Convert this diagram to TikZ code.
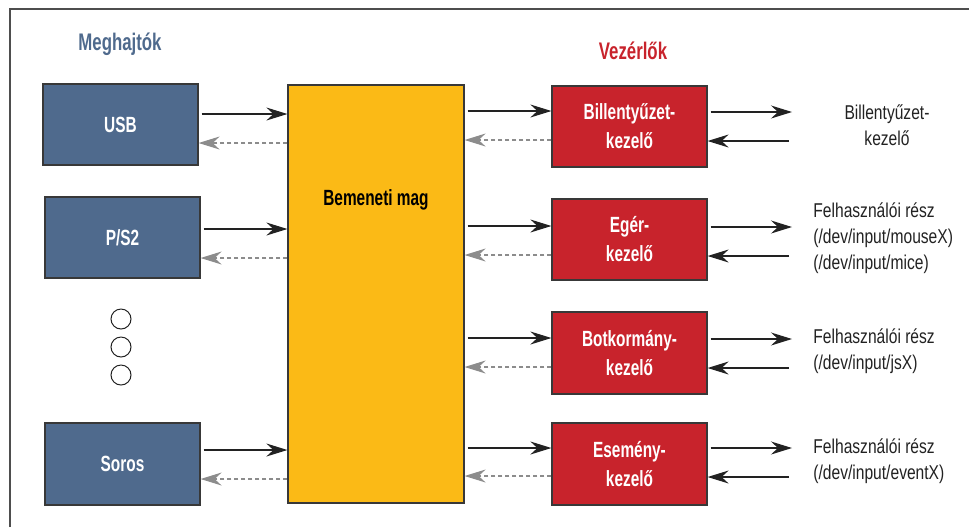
\documentclass[tikz,border=0pt]{standalone}
\usepackage{fontspec}
\setmainfont{Liberation Sans}[FakeStretch=0.78]
\newfontfamily\boxfont{Liberation Sans}[FakeStretch=0.7]
\usetikzlibrary{arrows.meta}

\definecolor{drvblue}{HTML}{4F6A8D}
\definecolor{coreyellow}{HTML}{FBBA16}
\definecolor{ctlred}{HTML}{C8232C}
\definecolor{retgray}{HTML}{8C8C8C}
\definecolor{ink}{HTML}{222222}

\tikzset{
  box/.style={draw=ink!90, line width=0.6pt, inner sep=0pt, align=center,
    minimum width=77.5pt, minimum height=40.5pt,
    font=\boxfont\fontsize{11}{14.5}\selectfont\bfseries},
  drvbox/.style={box, fill=drvblue, text=white},
  ctlbox/.style={box, fill=ctlred, text=white},
  corebox/.style={box, fill=coreyellow, minimum width=88pt, minimum height=209pt},
  fwd/.style={draw=ink, line width=0.6pt, shorten <=1.5pt,
    -{Stealth[length=10.5pt,width=6.5pt,inset=3.5pt]}},
  ret/.style={draw=retgray, line width=0.6pt, dash pattern=on 2pt off 1.5pt,
    -{Stealth[length=10.5pt,width=6.5pt,inset=3.5pt,fill=retgray]}},
  outlbl/.style={text=ink, inner sep=0pt, font=\fontsize{10}{13}\selectfont},
  heading/.style={font=\boxfont\fontsize{12}{14}\selectfont\bfseries},
  dot/.style={circle, draw=ink, line width=0.5pt, minimum size=10pt, inner sep=0pt}
}

\begin{document}
\begin{tikzpicture}[x=0.5pt, y=-0.5pt]
  \useasboundingbox (0,0) rectangle (969,527);
  % frame (cut at right and bottom)
  \draw[ink!80, line width=0.7pt] (10,527) -- (10,9) -- (969,9);

  % Drivers
  \node[heading, text=drvblue] (hdrv) at (120,44) {Meghajtók};
  \node[drvbox] (usb) at (120.5,124.5) {USB};
  \node[drvbox] (ps2) at (122.5,237.5) {P/S2};
  \node[drvbox, minimum height=41pt] (soros) at (122.5,464) {Soros};
  \foreach \i/\y in {1/319, 2/347, 3/375} {
    \node[dot] (dot\i) at (121,\y) {};
  }

  % Input core
  \node[corebox, label={[font=\boxfont\fontsize{11}{12}\selectfont\bfseries, yshift=47pt]center:Bemeneti mag}] (core) at (376,294) {};

  % Handlers
  \node[heading, text=ctlred] (hctl) at (633,51) {Vezérlők};
  \node[ctlbox] (kbd) at (629.5,126.5) {Billentyűzet-\\kezelő};
  \node[ctlbox] (mouse) at (629.5,239.5) {Egér-\\kezelő};
  \node[ctlbox, minimum height=41pt] (joy) at (629.5,353) {Botkormány-\\kezelő};
  \node[ctlbox, minimum height=41pt] (evt) at (629.5,464) {Esemény-\\kezelő};

  % User space
  \node[outlbl, align=center] (kbdu) at (887,125) {Billentyűzet-\\kezelő};
  \node[outlbl, align=left, anchor=west] (mouseu) at (813,238) {Felhasználói rész\\(/dev/input/mouseX)\\(/dev/input/mice)};
  \node[outlbl, align=left, anchor=west] (joyu) at (813,351) {Felhasználói rész\\(/dev/input/jsX)};
  \node[outlbl, align=left, anchor=west] (evtu) at (813,461) {Felhasználói rész\\(/dev/input/eventX)};
  \coordinate (usr) at (792,0);

  % drivers <-> core
  \foreach \n/\a/\b in {usb/114/143, ps2/229/258, soros/450/479} {
    \draw[fwd] (\n.east |- 0,\a) -- (core.west |- 0,\a);
    \draw[ret] (core.west |- 0,\b) -- (\n.east |- 0,\b);
  }

  % core <-> handlers <-> user space
  \foreach \n/\a/\b/\c/\d in {kbd/111/140/112/141, mouse/226/255/227/256,
      joy/338/367/339/368, evt/448/476/448/477} {
    \draw[fwd] (core.east |- 0,\a) -- (\n.west |- 0,\a);
    \draw[ret] (\n.west |- 0,\b) -- (core.east |- 0,\b);
    \draw[fwd] (\n.east |- 0,\c) -- (usr |- 0,\c);
    \draw[fwd] (usr |- 0,\d) -- (\n.east |- 0,\d);
  }
\end{tikzpicture}
\end{document}
